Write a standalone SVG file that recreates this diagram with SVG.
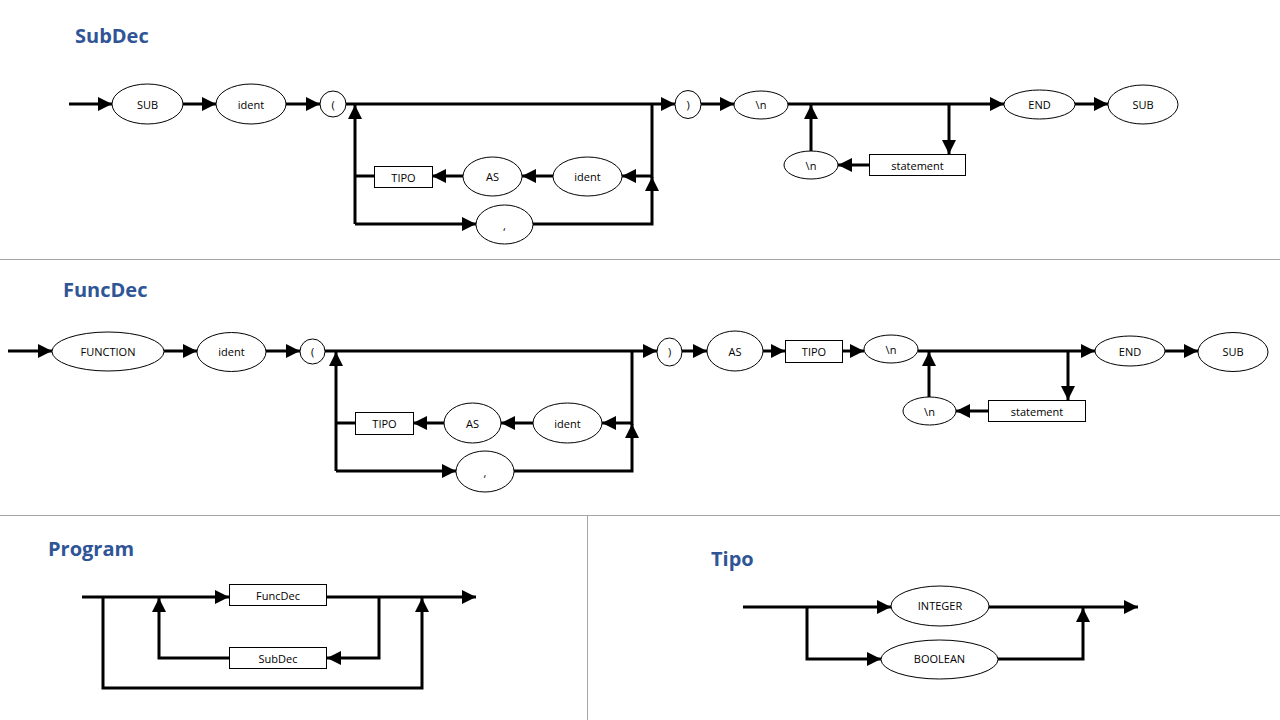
<svg xmlns="http://www.w3.org/2000/svg" width="1280" height="720" viewBox="0 0 1280 720">
<defs>
<marker id="arr" markerUnits="userSpaceOnUse" markerWidth="15" markerHeight="15" refX="14" refY="7" orient="auto">
<path d="M0,0 L14,7 L0,14 z" fill="#000"/>
</marker>
<style>
.t{font-family:"Open Sans","DejaVu Sans",sans-serif;font-size:11px;fill:#000;text-anchor:middle;dominant-baseline:central}
.h{font-family:"Open Sans","DejaVu Sans",sans-serif;font-size:20px;font-weight:bold;fill:#2F5597}
.n ellipse,.n rect{fill:#fff;stroke:#000;stroke-width:1}
.c path{fill:none;stroke:#000;stroke-width:3}
.c path.a{marker-end:url(#arr)}
.sep{stroke:#A6A6A6;stroke-width:1}
</style>
</defs>
<rect width="1280" height="720" fill="#fff"/>
<g id="separators">
<line class="sep" x1="0" y1="259.5" x2="1280" y2="259.5"/>
<line class="sep" x1="0" y1="515.5" x2="1280" y2="515.5"/>
<line class="sep" x1="587.5" y1="515" x2="587.5" y2="720"/>
</g>
<g id="titles">
<text class="h" x="75" y="43">SubDec</text>
<text class="h" x="63" y="297">FuncDec</text>
<text class="h" x="48" y="556">Program</text>
<text class="h" x="711" y="566">Tipo</text>
</g>
<g class="c" id="connectors">
<!-- SubDec -->
<path class="a" d="M69,104 H112"/>
<path class="a" d="M183,104 H216"/>
<path class="a" d="M286,104 H320"/>
<path class="a" d="M346,104 H675"/>
<path class="a" d="M701,104 H734"/>
<path class="a" d="M788,104 H1004"/>
<path class="a" d="M1075,104 H1108"/>
<path d="M652,104 V178"/>
<path class="a" d="M533,224 H652 V177"/>
<path class="a" d="M652,176 H622"/>
<path class="a" d="M553,176 H522"/>
<path class="a" d="M463,176 H432"/>
<path d="M374,176 H355"/>
<path class="a" d="M355,224 V105"/>
<path class="a" d="M355,224 H476"/>
<path class="a" d="M811,151 V105"/>
<path class="a" d="M869,165 H838"/>
<path class="a" d="M949,104 V154"/>
<!-- FuncDec -->
<path class="a" d="M8,351 H52"/>
<path class="a" d="M164,351 H197"/>
<path class="a" d="M266,351 H300"/>
<path class="a" d="M325,351 H657"/>
<path class="a" d="M682,351 H707"/>
<path class="a" d="M763,351 H785"/>
<path class="a" d="M842,351 H864"/>
<path class="a" d="M918,351 H1095"/>
<path class="a" d="M1165,351 H1198"/>
<path d="M632,351 V425"/>
<path class="a" d="M514,471 H632 V424"/>
<path class="a" d="M632,423 H602"/>
<path class="a" d="M533,423 H501"/>
<path class="a" d="M444,423 H413"/>
<path d="M355,423 H336"/>
<path class="a" d="M336,471 V352"/>
<path class="a" d="M336,471 H456"/>
<path class="a" d="M929,397 V352"/>
<path class="a" d="M988,411 H956"/>
<path class="a" d="M1068,351 V400"/>
<!-- Program -->
<path class="a" d="M82,597 H229"/>
<path class="a" d="M327,597 H476"/>
<path class="a" d="M103,597 V688 H422 V598"/>
<path class="a" d="M379,597 V658 H327"/>
<path class="a" d="M229,658 H159 V598"/>
<!-- Tipo -->
<path class="a" d="M743,607 H891"/>
<path class="a" d="M989,607 H1138"/>
<path class="a" d="M807,607 V659 H881"/>
<path class="a" d="M998,659 H1083 V608"/>
</g>
<!-- SubDec nodes -->
<g class="n" id="sd-sub1"><ellipse cx="147.5" cy="104" rx="35.5" ry="20"/><text class="t" x="147.5" y="104">SUB</text></g>
<g class="n" id="sd-ident1"><ellipse cx="251" cy="104" rx="35" ry="20"/><text class="t" x="251" y="104">ident</text></g>
<g class="n" id="sd-lparen"><ellipse cx="333" cy="104" rx="13" ry="13"/><text class="t" x="333" y="104">(</text></g>
<g class="n" id="sd-rparen"><ellipse cx="688" cy="104.5" rx="13" ry="14"/><text class="t" x="688" y="104">)</text></g>
<g class="n" id="sd-nl1"><ellipse cx="761" cy="105" rx="27" ry="14"/><text class="t" x="761" y="104">\n</text></g>
<g class="n" id="sd-end"><ellipse cx="1039.5" cy="104.5" rx="35.5" ry="14.5"/><text class="t" x="1039.5" y="104">END</text></g>
<g class="n" id="sd-sub2"><ellipse cx="1143" cy="104.5" rx="35" ry="19.5"/><text class="t" x="1143" y="104">SUB</text></g>
<g class="n" id="sd-tipo"><rect x="374.5" y="166.5" width="58" height="21"/><text class="t" x="403.5" y="177">TIPO</text></g>
<g class="n" id="sd-as"><ellipse cx="492.5" cy="176.5" rx="29.5" ry="19.5"/><text class="t" x="492.5" y="176">AS</text></g>
<g class="n" id="sd-ident2"><ellipse cx="587.5" cy="176.5" rx="34.5" ry="19.5"/><text class="t" x="587.5" y="176">ident</text></g>
<g class="n" id="sd-comma"><ellipse cx="504.5" cy="224.5" rx="28.5" ry="19.5"/><text class="t" x="504.5" y="225">,</text></g>
<g class="n" id="sd-nl2"><ellipse cx="811" cy="165" rx="27" ry="14"/><text class="t" x="811" y="165">\n</text></g>
<g class="n" id="sd-statement"><rect x="869.5" y="154.5" width="96" height="21"/><text class="t" x="917.5" y="165">statement</text></g>
<!-- FuncDec nodes -->
<g class="n" id="fd-function"><ellipse cx="108" cy="351.5" rx="56" ry="19.5"/><text class="t" x="108" y="351">FUNCTION</text></g>
<g class="n" id="fd-ident1"><ellipse cx="231.5" cy="352" rx="34.5" ry="19.5"/><text class="t" x="231.5" y="351">ident</text></g>
<g class="n" id="fd-lparen"><ellipse cx="312.5" cy="351.5" rx="12.5" ry="12.5"/><text class="t" x="312.5" y="351">(</text></g>
<g class="n" id="fd-rparen"><ellipse cx="669.5" cy="352" rx="12.5" ry="14"/><text class="t" x="669.5" y="351">)</text></g>
<g class="n" id="fd-as1"><ellipse cx="735" cy="351" rx="28" ry="20"/><text class="t" x="735" y="351">AS</text></g>
<g class="n" id="fd-tipo1"><rect x="785.5" y="340.5" width="57" height="22"/><text class="t" x="814" y="351">TIPO</text></g>
<g class="n" id="fd-nl1"><ellipse cx="891" cy="349" rx="27" ry="14"/><text class="t" x="891" y="349">\n</text></g>
<g class="n" id="fd-end"><ellipse cx="1130" cy="351" rx="35" ry="15"/><text class="t" x="1130" y="351">END</text></g>
<g class="n" id="fd-sub"><ellipse cx="1233" cy="352" rx="35" ry="19.5"/><text class="t" x="1233" y="351">SUB</text></g>
<g class="n" id="fd-tipo2"><rect x="355.5" y="412.5" width="58" height="22"/><text class="t" x="384.5" y="423">TIPO</text></g>
<g class="n" id="fd-as2"><ellipse cx="472.5" cy="423" rx="28.5" ry="20"/><text class="t" x="472.5" y="423">AS</text></g>
<g class="n" id="fd-ident2"><ellipse cx="567.5" cy="423" rx="34.5" ry="20"/><text class="t" x="567.5" y="423">ident</text></g>
<g class="n" id="fd-comma"><ellipse cx="485" cy="471.5" rx="29" ry="20.5"/><text class="t" x="485" y="472">,</text></g>
<g class="n" id="fd-nl2"><ellipse cx="929.5" cy="411" rx="26.5" ry="14"/><text class="t" x="929.5" y="411">\n</text></g>
<g class="n" id="fd-statement"><rect x="988.5" y="400.5" width="97" height="21"/><text class="t" x="1037" y="411">statement</text></g>
<!-- Program nodes -->
<g class="n" id="pg-funcdec"><rect x="229.5" y="584.5" width="97" height="21"/><text class="t" x="278" y="595">FuncDec</text></g>
<g class="n" id="pg-subdec"><rect x="229.5" y="647.5" width="97" height="21"/><text class="t" x="278" y="658">SubDec</text></g>
<!-- Tipo nodes -->
<g class="n" id="tp-integer"><ellipse cx="940" cy="606" rx="49" ry="20"/><text class="t" x="940" y="605">INTEGER</text></g>
<g class="n" id="tp-boolean"><ellipse cx="939.5" cy="659.5" rx="58.5" ry="19.5"/><text class="t" x="939.5" y="658">BOOLEAN</text></g>
</svg>
